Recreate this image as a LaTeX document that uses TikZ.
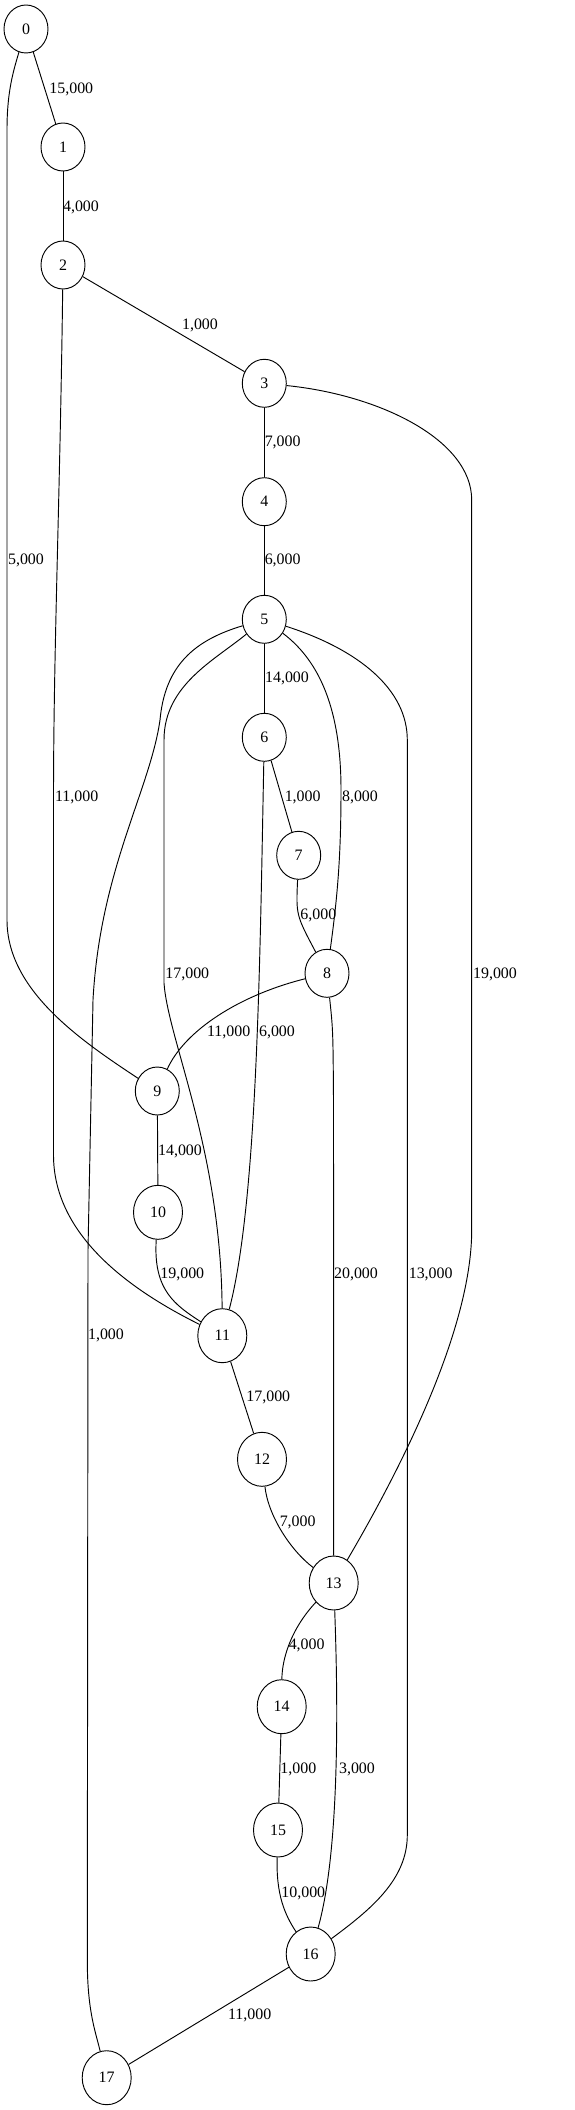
\documentclass[tikz,border=0pt]{standalone}
\usepackage{fontspec}
\setmainfont{Liberation Serif}
\usetikzlibrary{shapes.geometric}

\begin{document}
\begin{tikzpicture}[x=0.03cm, y=-0.03cm, line width=0.8pt,
	vtx/.style={draw, ellipse, inner sep=0pt, minimum width=1.32cm, minimum height=1.44cm, font=\fontsize{13.6}{16}\selectfont},
	bigvtx/.style={vtx, minimum width=1.47cm, minimum height=1.62cm},
	wt/.style={inner sep=0pt, font=\fontsize{13.6}{16}\selectfont}]
	\useasboundingbox (0,0) rectangle (574,2110);
	\node [vtx] (n0) at (26,29) {0};
	\node [vtx] (n1) at (63,147) {1};
	\node [vtx] (n2) at (63,265) {2};
	\node [vtx] (n3) at (264.3,383.3) {3};
	\node [vtx] (n4) at (264.3,501.7) {4};
	\node [vtx] (n5) at (264.3,619.3) {5};
	\node [vtx] (n6) at (264.3,737.3) {6};
	\node [vtx] (n7) at (298.7,855.3) {7};
	\node [vtx] (n8) at (327,973.3) {8};
	\node [vtx] (n9) at (157.3,1091) {9};
	\node [bigvtx] (n10) at (158,1212.3) {10};
	\node [bigvtx] (n11) at (222.3,1335.7) {11};
	\node [bigvtx] (n12) at (262,1459.3) {12};
	\node [bigvtx] (n13) at (333.7,1583) {13};
	\node [bigvtx] (n14) at (281.7,1706.7) {14};
	\node [bigvtx] (n15) at (278,1830) {15};
	\node [bigvtx] (n16) at (310.7,1954) {16};
	\node [bigvtx] (n17) at (106.7,2077.7) {17};
	\path (n0) edge (n1);
	\path (n1) edge (n2);
	\path (n2) edge (n3);
	\path (n3) edge (n4);
	\path (n4) edge (n5);
	\path (n5) edge (n6);
	\path (n6) edge (n7);
	\path (n9) edge (n10);
	\path (n11) edge (n12);
	\path (n14) edge (n15);
	\path (n16) edge (n17);
	\draw (n0) .. controls (12,75) and (7,95) .. (7,130) -- (7,920) .. controls (7,990) and (80,1040) .. (n9);
	\draw (n2) .. controls (60,500) and (53.5,650) .. (53.5,800) -- (53.5,1155) .. controls (53.5,1230) and (120,1285) .. (n11);
	\draw (n3) .. controls (380,395) and (471.7,440) .. (471.7,500) -- (471.7,1230) .. controls (471.7,1330) and (400,1470) .. (n13);
	\draw (n5) .. controls (195,640) and (165,665) .. (160,720) .. controls (150,790) and (100,870) .. (93,1000) -- (88,1250) -- (87.3,1960) .. controls (87.3,2010) and (95,2030) .. (n17);
	\draw (n5) .. controls (215,660) and (164,685) .. (164,740) -- (164,983) .. controls (168,1040) and (221,1150) .. (n11);
	\draw (n5) .. controls (325,665) and (341,720) .. (341,790) .. controls (341,860) and (337,900) .. (n8);
	\draw (n5) .. controls (360,650) and (407.3,690) .. (407.3,740) -- (407.3,1835) .. controls (407.3,1880) and (370,1910) .. (n16);
	\draw (n6) .. controls (260,950) and (258,1200) .. (n11);
	\draw (n7) .. controls (296,915) .. (n8);
	\draw (n8) .. controls (240,995) and (185,1030) .. (n9);
	\draw (n10) .. controls (153,1290) and (175,1305) .. (n11);
	\draw (n8) .. controls (333,1030) .. (333.5,1100) -- (n13);
	\draw (n12) .. controls (268,1515) and (290,1550) .. (n13);
	\draw (n13) .. controls (290,1630) and (282,1660) .. (n14);
	\draw (n13) .. controls (338,1700) and (340,1850) .. (n16);
	\draw (n15) .. controls (276,1895) and (285,1915) .. (n16);
	\node [wt] (w0-1) at (71.3,89) {15,000};
	\node [wt] (w1-2) at (81,207) {4,000};
	\node [wt] (w2-3) at (200,325) {1,000};
	\node [wt] (w0-9) at (26,560.7) {5,000};
	\node [wt] (w3-4) at (282.7,442.7) {7,000};
	\node [wt] (w4-5) at (282.7,560.7) {6,000};
	\node [wt] (w5-6) at (287,678.7) {14,000};
	\node [wt] (w2-11) at (76.7,797.3) {11,000};
	\node [wt] (w6-7) at (302.7,797.3) {1,000};
	\node [wt] (w5-8) at (360,797.3) {8,000};
	\node [wt] (w7-8) at (318.3,915) {6,000};
	\node [wt] (w5-11) at (187.3,974) {17,000};
	\node [wt] (w3-13) at (495,974) {19,000};
	\node [wt] (w8-9) at (228.7,1032.7) {11,000};
	\node [wt] (w6-11) at (277,1032.7) {6,000};
	\node [wt] (w9-10) at (180,1151) {14,000};
	\node [wt] (w10-11) at (182.3,1274) {19,000};
	\node [wt] (w8-13) at (356,1274) {20,000};
	\node [wt] (w5-16) at (430.7,1274) {13,000};
	\node [wt] (w5-17) at (106,1335.7) {1,000};
	\node [wt] (w11-12) at (268.3,1397.7) {17,000};
	\node [wt] (w12-13) at (297.7,1522) {7,000};
	\node [wt] (w13-14) at (306.7,1645) {4,000};
	\node [wt] (w14-15) at (298.3,1769) {1,000};
	\node [wt] (w13-16) at (357,1769) {3,000};
	\node [wt] (w15-16) at (303.3,1893.3) {10,000};
	\node [wt] (w16-17) at (249.7,2015.7) {11,000};
\end{tikzpicture}
\end{document}
